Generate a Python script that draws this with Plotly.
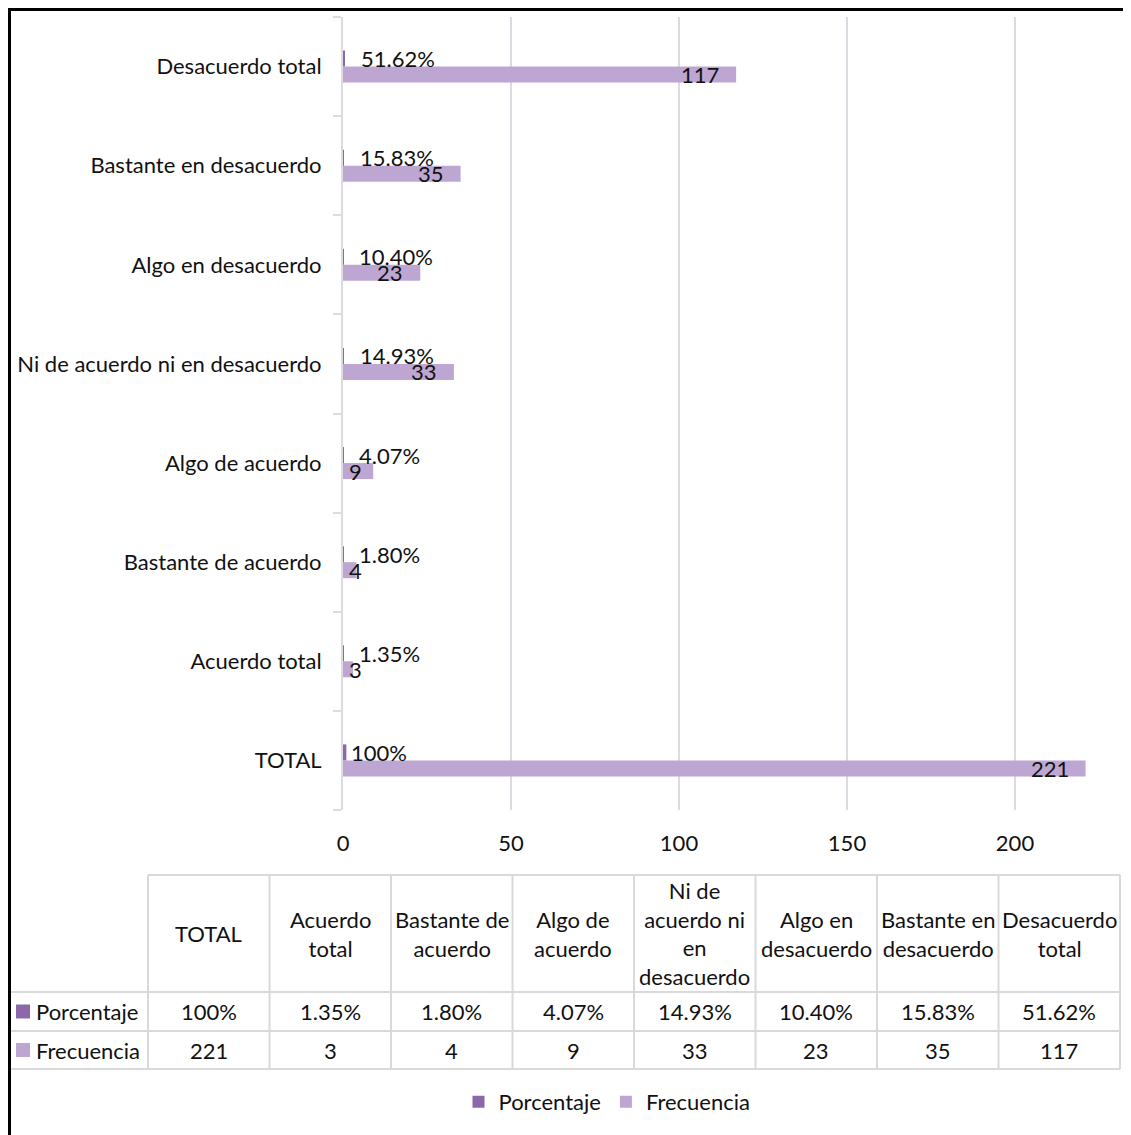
import plotly.graph_objects as go

# ---------------- data ----------------
categories = ["TOTAL", "Acuerdo total", "Bastante de acuerdo", "Algo de acuerdo",
              "Ni de acuerdo ni en desacuerdo", "Algo en desacuerdo",
              "Bastante en desacuerdo", "Desacuerdo total"]
table_headers = ["TOTAL", "Acuerdo<br>total", "Bastante de<br>acuerdo", "Algo de<br>acuerdo",
                 "Ni de<br>acuerdo ni<br>en<br>desacuerdo", "Algo en<br>desacuerdo",
                 "Bastante en<br>desacuerdo", "Desacuerdo<br>total"]
porcentaje = [1.0, 0.0135, 0.018, 0.0407, 0.1493, 0.1040, 0.1583, 0.5162]
porcentaje_labels = ["100%", "1.35%", "1.80%", "4.07%", "14.93%", "10.40%", "15.83%", "51.62%"]
frecuencia = [221, 3, 4, 9, 33, 23, 35, 117]
x_ticks = [0, 50, 100, 150, 200]

# ---------------- style ----------------
FONT = "Lato, Calibri, Carlito, sans-serif"
TXT = "#111111"
C_PCT = "#8C68AB"
C_FRQ = "#BEA6D2"
GRID = "#DCDAE2"
FS = 22

OFF = 8  # page body margin: figure origin sits at page pixel (8, 8)
PAGE_W, PAGE_H = 1131, 1135
W, H = PAGE_W - OFF, PAGE_H - OFF
# plot area in page pixels
L, R, T, B = 343, 1099, 17, 810


def px2x(px):
    return (px - L) / (R - L)


def py2y(py):
    return (B - py) / (B - T)


fig = go.Figure()
fig.add_trace(go.Bar(
    y=categories, x=frecuencia, orientation="h", name="Frecuencia",
    marker=dict(color=C_FRQ, line=dict(width=0)), legendrank=2,
    hoverinfo="x+y"))
fig.add_trace(go.Bar(
    y=categories, x=porcentaje, orientation="h", name="Porcentaje",
    marker=dict(color=C_PCT, line=dict(width=0)), legendrank=1,
    hoverinfo="x+y"))

annotations = []
# data labels
for cat, v, lab in zip(categories, porcentaje, porcentaje_labels):
    annotations.append(dict(x=v, y=cat, xref="x", yref="y", text=lab, showarrow=False,
                            xanchor="left", yanchor="middle",
                            xshift=3 if v >= 1 else 14, yshift=8,
                            font=dict(family=FONT, size=FS, color=TXT)))
for cat, v in zip(categories, frecuencia):
    if v >= 10:
        a = dict(x=v, xanchor="right", xshift=-15)
    else:
        a = dict(x=0, xanchor="left", xshift=4)
    a.update(y=cat, xref="x", yref="y", text=str(v), showarrow=False,
             yanchor="middle", yshift=-8,
             font=dict(family=FONT, size=FS, color=TXT))
    annotations.append(a)

# ---------------- data table ----------------
tab_left, tab_right = 148, 1120
col_w = (tab_right - tab_left) / len(categories)
row_lines = [875, 992, 1031, 1069]
shapes = []
LINE = dict(color="#D9D9D9", width=2)
shapes.append(dict(type="line", xref="paper", yref="paper",
                   x0=px2x(tab_left), x1=px2x(tab_right),
                   y0=py2y(row_lines[0]), y1=py2y(row_lines[0]), line=LINE))
for ry in row_lines[1:]:
    shapes.append(dict(type="line", xref="paper", yref="paper",
                       x0=px2x(9), x1=px2x(tab_right), y0=py2y(ry), y1=py2y(ry), line=LINE))
for i in range(len(categories) + 1):
    cx = tab_left + i * col_w
    shapes.append(dict(type="line", xref="paper", yref="paper",
                       x0=px2x(cx), x1=px2x(cx),
                       y0=py2y(row_lines[0]), y1=py2y(row_lines[-1]), line=LINE))

hdr_y = (row_lines[0] + row_lines[1]) / 2
pct_y = (row_lines[1] + row_lines[2]) / 2
frq_y = (row_lines[2] + row_lines[3]) / 2
for i, (hdr, pl, fv) in enumerate(zip(table_headers, porcentaje_labels, frecuencia)):
    cx = tab_left + (i + 0.5) * col_w
    for txt, yy in ((hdr, hdr_y), (pl, pct_y), (str(fv), frq_y)):
        annotations.append(dict(x=px2x(cx), y=py2y(yy), xref="paper", yref="paper",
                                text=txt, showarrow=False, xanchor="center", yanchor="middle",
                                align="center",
                                font=dict(family=FONT, size=FS, color=TXT)))
for name, col, yy in (("Porcentaje", C_PCT, pct_y), ("Frecuencia", C_FRQ, frq_y)):
    shapes.append(dict(type="rect", xref="paper", yref="paper",
                       x0=px2x(16), x1=px2x(30), y0=py2y(yy + 7), y1=py2y(yy - 7),
                       fillcolor=col, line=dict(width=0)))
    annotations.append(dict(x=px2x(34), y=py2y(yy), xref="paper", yref="paper",
                            text=name, showarrow=False, xanchor="left", yanchor="middle",
                            font=dict(family=FONT, size=FS, color=TXT)))

# outer black border (top and left), as close to the page edge as the figure allows
shapes.append(dict(type="line", xref="paper", yref="paper",
                   x0=px2x(OFF), x1=px2x(PAGE_W), y0=py2y(OFF + 1.5), y1=py2y(OFF + 1.5),
                   line=dict(color="black", width=3)))
shapes.append(dict(type="line", xref="paper", yref="paper",
                   x0=px2x(OFF + 1.5), x1=px2x(OFF + 1.5), y0=py2y(OFF), y1=py2y(PAGE_H),
                   line=dict(color="black", width=3)))

fig.update_layout(
    width=W, height=H,
    margin=dict(l=L - OFF, r=PAGE_W - R, t=T - OFF, b=PAGE_H - B, pad=0),
    paper_bgcolor="white", plot_bgcolor="white",
    barmode="group", bargap=0.677, bargroupgap=0,
    font=dict(family=FONT, size=FS, color=TXT),
    showlegend=True,
    legend=dict(orientation="h", x=px2x(607), xanchor="center",
                y=py2y(1102), yanchor="middle",
                font=dict(family=FONT, size=FS, color=TXT),
                traceorder="normal", itemwidth=30),
    xaxis=dict(range=[0, 225], tickvals=x_ticks, showgrid=True, gridcolor=GRID, gridwidth=2,
               zeroline=False, showline=False, ticks="", ticklabelstandoff=18,
               tickfont=dict(family=FONT, size=FS, color=TXT), fixedrange=True),
    yaxis=dict(type="category", categoryorder="array", categoryarray=categories,
               showline=True, linecolor=GRID, linewidth=2,
               ticks="outside", tickson="boundaries", ticklen=8, tickcolor=GRID, tickwidth=2,
               showgrid=False, ticklabelstandoff=15,
               tickfont=dict(family=FONT, size=FS, color=TXT), fixedrange=True),
    annotations=annotations,
    shapes=shapes,
)

fig.write_html("out.html")
